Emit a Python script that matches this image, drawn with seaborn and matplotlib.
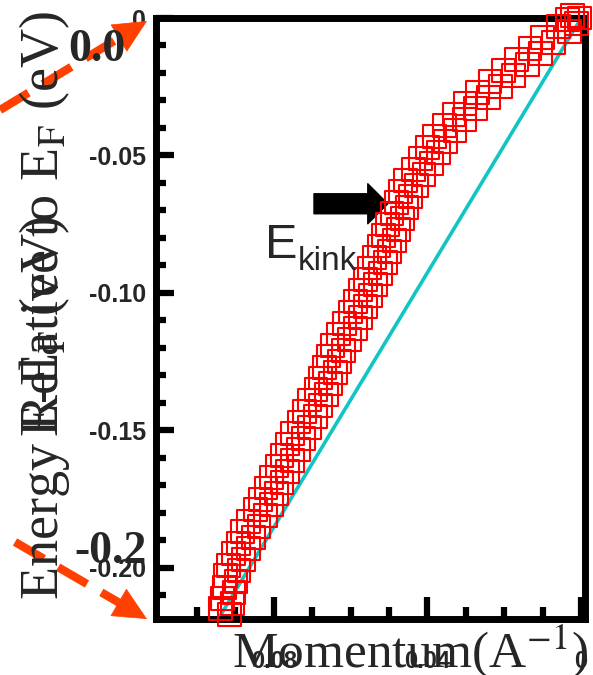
import matplotlib
matplotlib.use("Agg")
import matplotlib.pyplot as plt
from matplotlib import font_manager as fm
from matplotlib.ticker import FixedLocator, FixedFormatter
import pandas as pd
import seaborn as sns

sns.set_style("ticks")
plt.rcParams["font.family"] = ["Liberation Serif", "DejaVu Serif"]
plt.rcParams["mathtext.fontset"] = "stix"

# 动量 (1/A) 与能量 (eV)，读图估计
momentum = [
    0.0914, 0.0938, 0.0908, 0.0934, 0.0903, 0.0928, 0.0898, 0.0925, 0.0890, 0.0918,
    0.0878, 0.0905, 0.0866, 0.0892, 0.0853, 0.0880, 0.0838, 0.0866, 0.0821, 0.0848,
    0.0806, 0.0834, 0.0792, 0.0820, 0.0778, 0.0806, 0.0764, 0.0791, 0.0750, 0.0778,
    0.0736, 0.0764, 0.0722, 0.0750, 0.0706, 0.0734, 0.0692, 0.0720, 0.0678, 0.0706,
    0.0663, 0.0690, 0.0651, 0.0679, 0.0640, 0.0668, 0.0629, 0.0657, 0.0618, 0.0646,
    0.0603, 0.0631, 0.0588, 0.0616, 0.0573, 0.0601, 0.0560, 0.0588, 0.0547, 0.0575,
    0.0534, 0.0562, 0.0522, 0.0550, 0.0510, 0.0538, 0.0498, 0.0526, 0.0486, 0.0514,
    0.0475, 0.0503, 0.0464, 0.0492, 0.0453, 0.0481, 0.0443, 0.0471, 0.0429, 0.0457,
    0.0409, 0.0437, 0.0390, 0.0418, 0.0371, 0.0399, 0.0353, 0.0381, 0.0328, 0.0356,
    0.0303, 0.0331, 0.0274, 0.0302, 0.0242, 0.0270, 0.0209, 0.0237, 0.0175, 0.0203,
    0.0140, 0.0168, 0.0105, 0.0133, 0.0072, 0.0100, 0.0031, 0.0058, 0.0012, 0.0036,
    0.0004, 0.0022,
]
energy = [
    -0.2170, -0.2150, -0.2130, -0.2112, -0.2090, -0.2072, -0.2050, -0.2030, -0.2010, -0.1992,
    -0.1970, -0.1950, -0.1930, -0.1912, -0.1890, -0.1870, -0.1850, -0.1832, -0.1810, -0.1790,
    -0.1770, -0.1752, -0.1730, -0.1710, -0.1690, -0.1672, -0.1650, -0.1630, -0.1610, -0.1592,
    -0.1570, -0.1550, -0.1530, -0.1512, -0.1490, -0.1470, -0.1450, -0.1432, -0.1410, -0.1390,
    -0.1370, -0.1352, -0.1330, -0.1310, -0.1290, -0.1272, -0.1250, -0.1230, -0.1210, -0.1192,
    -0.1170, -0.1150, -0.1130, -0.1112, -0.1090, -0.1070, -0.1050, -0.1032, -0.1010, -0.0990,
    -0.0970, -0.0952, -0.0930, -0.0910, -0.0890, -0.0872, -0.0850, -0.0830, -0.0810, -0.0792,
    -0.0770, -0.0750, -0.0730, -0.0712, -0.0690, -0.0670, -0.0650, -0.0632, -0.0610, -0.0590,
    -0.0570, -0.0552, -0.0530, -0.0510, -0.0490, -0.0472, -0.0450, -0.0430, -0.0410, -0.0392,
    -0.0370, -0.0350, -0.0330, -0.0312, -0.0290, -0.0270, -0.0250, -0.0232, -0.0210, -0.0190,
    -0.0170, -0.0152, -0.0130, -0.0110, -0.0090, -0.0072, -0.0050, -0.0030, -0.0020, -0.0005,
    0.0000, 0.0008,
]
# 裸能带（直线）
bare_k = [0.0943, 0.0]
bare_e = [-0.2185, 0.0]

x_major = [0.08, 0.04, 0.0]
x_major_labels = ["0.08", "0.04", "0"]
x_minor = [0.10, 0.09, 0.07, 0.06, 0.05, 0.03, 0.02, 0.01]
y_major = [0.0, -0.05, -0.10, -0.15, -0.20]
y_major_labels = ["0", "-0.05", "-0.10", "-0.15", "-0.20"]
y_minor = [-0.01, -0.02, -0.03, -0.04, -0.06, -0.07, -0.08, -0.09, -0.11, -0.12,
           -0.13, -0.14, -0.16, -0.17, -0.18, -0.19, -0.21]

W, H = 593, 675
names = {f.name for f in fm.fontManager.ttflist}
tick_family = "Liberation Sans Narrow" if "Liberation Sans Narrow" in names else "Liberation Sans"


def fx(px):
    return px / W


def fy(py):
    return 1 - py / H


fig = plt.figure(figsize=(W / 100, H / 100), dpi=100)
ax = fig.add_axes([fx(156), fy(619), 429 / W, 601 / H])

df = pd.DataFrame({"k": momentum, "e": energy})
line = pd.DataFrame({"k": bare_k, "e": bare_e})

sns.lineplot(data=line, x="k", y="e", color="#12c4c4", lw=2.6, ax=ax, sort=False)
sns.scatterplot(data=df, x="k", y="e", marker="s", s=270, facecolor="none",
                edgecolor="#ff0000", linewidth=1.5, ax=ax, clip_on=False, zorder=5)

ax.set_xlim(0.1106, -0.001)
ax.set_ylim(-0.2187, 0.0)
ax.set_xlabel("")
ax.set_ylabel("")

for s in ax.spines.values():
    s.set_linewidth(5)
    s.set_color("black")

ax.xaxis.set_major_locator(FixedLocator(x_major))
ax.xaxis.set_major_formatter(FixedFormatter(x_major_labels))
ax.xaxis.set_minor_locator(FixedLocator(x_minor))
ax.yaxis.set_major_locator(FixedLocator(y_major))
ax.yaxis.set_major_formatter(FixedFormatter(y_major_labels))
ax.yaxis.set_minor_locator(FixedLocator(y_minor))
ax.tick_params(axis="both", which="both", direction="in", top=False, right=False,
               width=4.5, color="black")
ax.tick_params(axis="y", which="major", length=13, pad=7)
ax.tick_params(axis="y", which="minor", length=7)
ax.tick_params(axis="x", which="major", length=16, pad=22)
ax.tick_params(axis="x", which="minor", length=9)
for lab in ax.get_yticklabels():
    lab.set_family(tick_family)
    lab.set_fontweight("bold")
    lab.set_fontsize(18)
for lab in ax.get_xticklabels():
    lab.set_family(tick_family)
    lab.set_fontweight("bold")
    lab.set_fontsize(17)

# 轴标题（两层重叠文字）
fig.text(fx(232), fy(668), "Momentum(A$^{-1}$)", fontsize=37, ha="left", va="baseline")
fig.text(fx(58), fy(600), "Energy Relative to E$_\\mathrm{F}$ (eV)", fontsize=39,
         rotation=90, rotation_mode="anchor", ha="left", va="baseline")
fig.text(fx(58), fy(437), "E-E$_\\mathrm{F}$ (eV)", fontsize=39,
         rotation=90, rotation_mode="anchor", ha="left", va="baseline")
fig.text(fx(97), fy(50), "0.0", fontsize=33, fontweight="bold", ha="center", va="center")
fig.text(fx(111), fy(552), "-0.2", fontsize=33, fontweight="bold", ha="center", va="center")

# E_kink 与黑色箭头
fig.text(fx(265), fy(258), "E", fontsize=35, family="Liberation Sans", ha="left", va="baseline")
fig.text(fx(298), fy(270), "kink", fontsize=24, family="Liberation Sans", ha="left", va="baseline")
ax.annotate("", xy=(0.0503, -0.0676), xytext=(0.0695, -0.0676),
            arrowprops=dict(arrowstyle="simple,head_length=0.72,head_width=1.44,tail_width=0.72",
                            fc="black", ec="black", mutation_scale=20, shrinkA=0, shrinkB=0))

# 橙色虚线箭头
orange = "#ff4000"
for tail, base, tip in [((0, 565), (119.6, 637.4), (147, 654)),
                        ((15, 133), (119.4, 72.1), (147, 56))]:
    fig.add_artist(plt.Line2D([fx(tail[0]), fx(base[0])], [tail[1] / H, base[1] / H],
                              transform=fig.transFigure, color=orange, lw=6,
                              ls=(0, (4, 2)), solid_capstyle="butt"))
    ax.annotate("", xy=tip, xytext=base, xycoords="figure pixels",
                textcoords="figure pixels",
                arrowprops=dict(arrowstyle="-|>,head_length=2.3,head_width=1.1",
                                fc=orange, ec=orange, lw=0.5, mutation_scale=10,
                                shrinkA=0, shrinkB=0))

fig.savefig("out.png", dpi=100)
